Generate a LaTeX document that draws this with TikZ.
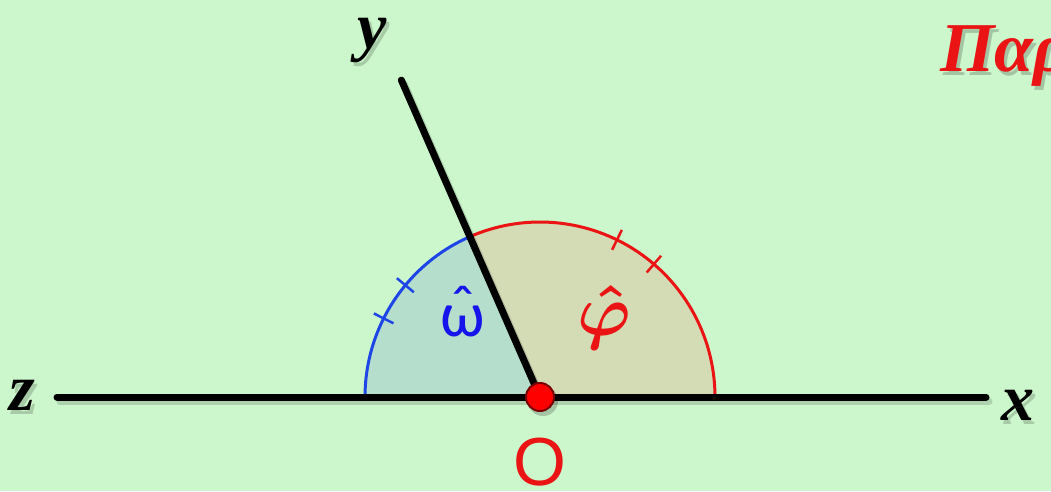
\documentclass[tikz,border=0pt]{standalone}
\usepackage{graphicx}
\usepackage{fontspec}
\usetikzlibrary{calc}
\setmainfont{Liberation Serif}
\newfontfamily\sansf{Liberation Sans}
\newfontfamily\greekf{Carlito}
\definecolor{bg}{RGB}{204,247,204}
\definecolor{wblue}{RGB}{182,222,204}
\definecolor{wred}{RGB}{212,220,182}
\definecolor{ablue}{RGB}{30,70,230}
\definecolor{ared}{RGB}{235,20,20}
\definecolor{lblue}{RGB}{20,20,235}
\newcommand\hatted[2][0.12em]{\ooalign{#2\cr\hidewidth\raisebox{#1}{ˆ}\hidewidth\cr}}
\tikzset{
  ray/.style={line width=7pt, line cap=round, black},
  rayshadow/.style={line width=7pt, line cap=round, black, opacity=0.15},
  arcline/.style={line width=3pt},
  tick/.style={line width=2.5pt},
  axlabel/.style={font=\fontsize{66}{66}\selectfont\bfseries\itshape, inner sep=0pt},
  shadowtext/.style={text=black, opacity=0.18},
  anglabel/.style={font=\greekf\fontsize{64}{64}\selectfont, inner sep=0pt},
}
\begin{document}
\begin{tikzpicture}[x=1pt,y=1pt]
\useasboundingbox (0,0) rectangle (1051,491);
\clip (0,0) rectangle (1051,491);
\fill[bg] (0,0) rectangle (1051,491);
\coordinate (O) at (540,94);
\coordinate (Z) at (57,94);
\coordinate (X) at (986,94);
\coordinate (Y) at ($(O)+(113.63:346)$);
% wedges
\fill[wred] (O) -- ++(0:175) arc[start angle=0, end angle=113.63, radius=175] -- cycle;
\fill[wblue] (O) -- ++(113.63:175) arc[start angle=113.63, end angle=180, radius=175] -- cycle;
\draw[arcline, ared] ($(O)+(0:175)$) arc[start angle=0, end angle=113.63, radius=175];
\draw[arcline, ablue] ($(O)+(113.63:175)$) arc[start angle=113.63, end angle=180, radius=175];
% ticks
\foreach \a in {49.4,63.9}{\draw[tick, ared] ($(O)+(\a:164)$) -- ($(O)+(\a:186)$);}
\foreach \a in {140.3,153.3}{\draw[tick, ablue] ($(O)+(\a:164)$) -- ($(O)+(\a:186)$);}
% shadows of rays
\draw[rayshadow] ([shift={(3,-4)}]Z) -- ([shift={(3,-4)}]X);
\draw[rayshadow] ([shift={(3,-4)}]O) -- ([shift={(3,-4)}]Y);
% rays
\draw[ray] (Z) -- (X);
\draw[ray] (O) -- (Y);
% vertex
\fill[black, opacity=0.2] ([shift={(3,-4)}]O) circle[radius=15];
\draw[line width=2pt, fill=red, draw={rgb,255:red,120;green,0;blue,0}] (O) circle[radius=14];
% labels
\node[axlabel, shadowtext] (xs) at (1021,82) {x};
\node[axlabel] (xl) at (1018,86) {x};
\node[axlabel, shadowtext] (zs) at (25,92) {z};
\node[axlabel] (zl) at (22,96) {z};
\node[axlabel, shadowtext] (ys) at (375,447) {y};
\node[axlabel] (yl) at (372,451) {y};
\node[font=\sansf\fontsize{68}{68}\selectfont, text=ared, inner sep=0pt] (ol) at (540,29) {O};
\node[anglabel, text=lblue] (om) at (463,170) {\hatted[0.1em]{ω}};
\node[inner sep=0pt, text=ared] (ph) at (604,174) {\scalebox{7.2}{\boldmath$\hat{\varphi}$}};
\node[font=\fontsize{70}{70}\selectfont\bfseries\itshape, text=black, opacity=0.2, anchor=base west, inner sep=0pt] (ts) at (943,415) {Παρ};
\node[font=\fontsize{70}{70}\selectfont\bfseries\itshape, text=ared, anchor=base west, inner sep=0pt] (tl) at (940,419) {Παρ};
\end{tikzpicture}
\end{document}
